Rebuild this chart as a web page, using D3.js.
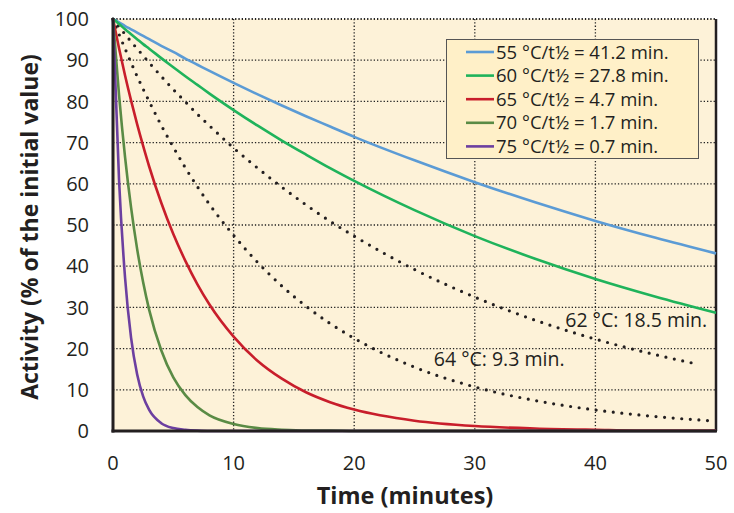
<!DOCTYPE html>
<html><head><meta charset="utf-8">
<script src="https://cdn.jsdelivr.net/npm/d3@7"></script>
<style>body{margin:0;background:#fff;} text{font-family:"Open Sans",sans-serif;fill:#231f20;}</style>
</head><body><svg id="c" width="734" height="513"></svg>
<script>
const times = [0,0.5,1,1.5,2,2.5,3,4,5,6,7,8,10,12,14,16,18,20,25,30,35,40,45,50];
const s55 = [100,99.2,98.3,97.5,96.7,95.9,95.1,93.5,92.0,90.4,88.9,87.4,84.5,81.7,79.0,76.4,73.9,71.4,65.7,60.4,55.5,51.0,46.9,43.1];
const s60 = [100,98.8,97.5,96.3,95.1,93.9,92.8,90.5,88.3,86.1,84.0,81.9,77.9,74.1,70.5,67.1,63.8,60.7,53.6,47.3,41.8,36.9,32.6,28.7];
const s65 = [100,92.9,86.3,80.2,74.5,69.2,64.2,55.4,47.8,41.3,35.6,30.7,22.9,17.0,12.7,9.4,7.0,5.2,2.5,1.2,0.6,0.3,0.1,0.1];
const s70 = [100,81.6,66.5,54.2,44.2,36.1,29.4,19.6,13.0,8.7,5.8,3.8,1.7,0.7,0.3,0.1,0.1,0,0,0,0,0,0,0];
const s75 = [100,61.0,37.2,22.6,13.8,8.4,5.1,1.9,0.7,0.3,0.1,0,0,0,0,0,0,0,0,0,0,0,0,0];
const s64 = [100,96.3,92.8,89.4,86.1,83.0,80.0,74.2,68.9,63.9,59.3,55.0,47.5,40.9,35.2,30.3,26.1,22.5,15.5,10.7,7.4,5.1,3.5,2.4];
const times62 = [0,0.5,1,1.5,2,2.5,3,4,5,6,7,8,10,12,14,16,18,20,25,30,35,40,45,48.5];
const s62 = [100,98.1,96.3,94.5,92.8,91.1,89.4,86.1,82.9,79.9,76.9,74.1,68.7,63.8,59.2,54.9,50.9,47.3,39.2,32.5,26.9,22.3,18.5,16.2];
const legendLabels = ["55 °C/t½ = 41.2 min.","60 °C/t½ = 27.8 min.","65 °C/t½ = 4.7 min.","70 °C/t½ = 1.7 min.","75 °C/t½ = 0.7 min."];
const colors = ["#5b9bd5","#1fb35b","#c81e2b","#5a8b45","#6c3fa0"];
const xTicks = [0,10,20,30,40,50];
const yTicks = [0,10,20,30,40,50,60,70,80,90,100];
const annotations = [{text:"62 °C: 18.5 min.", t:37.5, v:25.2},{text:"64 °C: 9.3 min.", t:26.6, v:15.7}];

const svg = d3.select("#c");
const L=113,R=716,T=19,B=431;
const x = d3.scaleLinear().domain([0,50]).range([L,R]);
const y = d3.scaleLinear().domain([0,100]).range([B,T]);

svg.append("rect").attr("x",L).attr("y",T).attr("width",R-L).attr("height",B-T).attr("fill","#fdf2d8");

// grid
const g = svg.append("g");
xTicks.filter(d=>d>0&&d<50).forEach(d=>g.append("line").attr("x1",x(d)).attr("x2",x(d)).attr("y1",T).attr("y2",B)
  .attr("stroke","#222").attr("stroke-width",1.3).attr("stroke-dasharray","1.3,2"));
yTicks.filter(d=>d>0).forEach(d=>g.append("line").attr("x1",L).attr("x2",R).attr("y1",y(d)).attr("y2",y(d))
  .attr("stroke","#222").attr("stroke-width",d===100?2:1.3).attr("stroke-dasharray","1.3,2"));

// frame
svg.append("line").attr("x1",R).attr("x2",R).attr("y1",T).attr("y2",B).attr("stroke","#231f20").attr("stroke-width",2.5);

const line = d3.line().x(d=>x(d[0])).y(d=>y(d[1])).curve(d3.curveMonotoneX);
const solid = [s55,s60,s65,s70,s75];

// dotted
[[times62,s62],[times,s64]].forEach(([tt,vv])=>{
  svg.append("path").attr("d",line(tt.map((t,i)=>[t,vv[i]]))).attr("fill","none")
    .attr("stroke","#231f20").attr("stroke-width",3.2).attr("stroke-linecap","round").attr("stroke-dasharray","0,8.6");
});
solid.forEach((vv,k)=>{
  svg.append("path").attr("d",line(times.map((t,i)=>[t,vv[i]]))).attr("fill","none")
    .attr("stroke",colors[k]).attr("stroke-width",2.6);
});

svg.append("line").attr("x1",L).attr("x2",L).attr("y1",T-1).attr("y2",B+1.5).attr("stroke","#231f20").attr("stroke-width",3);
svg.append("line").attr("x1",L-1.5).attr("x2",R+1).attr("y1",B).attr("y2",B).attr("stroke","#231f20").attr("stroke-width",3);

// tick labels
yTicks.forEach(d=>svg.append("text").attr("x",89).attr("y",y(d)).attr("dy","0.36em").attr("text-anchor","end")
  .attr("font-size",20).text(d));
xTicks.forEach(d=>svg.append("text").attr("x",x(d)).attr("y",470).attr("text-anchor","middle")
  .attr("font-size",20).text(d));

svg.append("text").attr("x",405).attr("y",504).attr("text-anchor","middle").attr("font-size",23.5).attr("font-weight","bold").text("Time (minutes)");
svg.append("text").attr("transform","translate(38,227) rotate(-90)").attr("text-anchor","middle").attr("font-size",23).attr("font-weight","bold").text("Activity (% of the initial value)");

// annotations
annotations.forEach(a=>svg.append("text").attr("x",x(a.t)).attr("y",y(a.v)).attr("font-size",19.5).text(a.text));

// legend
const lg = svg.append("g");
lg.append("rect").attr("x",446.5).attr("y",39.5).attr("width",252).attr("height",119).attr("fill","#fff0c8").attr("stroke","#555").attr("stroke-width",1);
legendLabels.forEach((lab,i)=>{
  const yy = 52+i*23.6;
  lg.append("line").attr("x1",466).attr("x2",494).attr("y1",yy).attr("y2",yy).attr("stroke",colors[i]).attr("stroke-width",2.6);
  lg.append("text").attr("x",496).attr("y",yy).attr("dy","0.36em").attr("font-size",18.5).text(lab);
});
</script></body></html>
